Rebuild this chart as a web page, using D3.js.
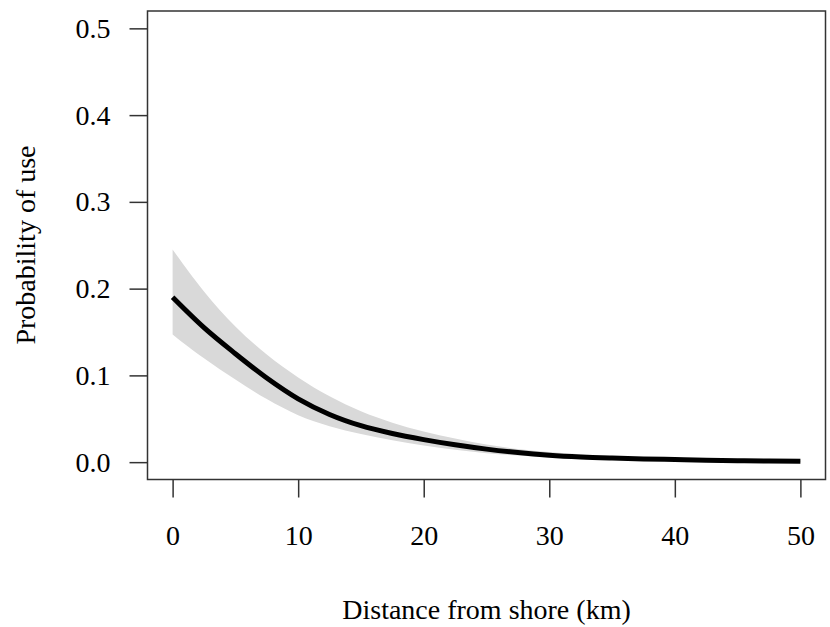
<!DOCTYPE html>
<html><head><meta charset="utf-8">
<script src="https://cdn.jsdelivr.net/npm/d3@7"></script>
<style>body{margin:0;background:#fff}svg{display:block}text{font-family:"Liberation Serif","Times New Roman",serif;fill:#000}</style>
</head><body><svg id="c" width="830" height="627"></svg>
<script>
const distance = [0, 2.5, 5, 7.5, 10, 12.5, 15, 17.5, 20, 22.5, 25, 27.5, 30, 32.5, 35, 37.5, 40, 42.5, 45, 47.5, 50];
const fitValues = [0.19, 0.155, 0.125, 0.097, 0.073, 0.055, 0.042, 0.033, 0.026, 0.020, 0.015, 0.011, 0.008, 0.006, 0.0047, 0.0037, 0.003, 0.0023, 0.0017, 0.0012, 0.001];
const upperValues = [0.245, 0.195, 0.155, 0.123, 0.097, 0.075, 0.058, 0.045, 0.035, 0.027, 0.020, 0.015, 0.0115, 0.009, 0.007, 0.0055, 0.0045, 0.0035, 0.0028, 0.0022, 0.0018];
const lowerValues = [0.147, 0.119, 0.095, 0.072, 0.053, 0.041, 0.032, 0.025, 0.019, 0.014, 0.010, 0.0075, 0.0052, 0.0038, 0.0026, 0.0018, 0.0012, 0.0008, 0.0005, 0.0003, 0.0002];
const xTicks = [0, 10, 20, 30, 40, 50];
const yTicks = [0.0, 0.1, 0.2, 0.3, 0.4, 0.5];
const xTitle = "Distance from shore (km)";
const yTitle = "Probability of use";

const svg = d3.select("#c");
const L = 147.5, R = 825.5, T = 11, B = 479.5;
const x = d3.scaleLinear().domain([-2, 52]).range([L, R]);
const y = d3.scaleLinear().domain([-0.02, 0.52]).range([B, T]);

const rows = distance.map((d, i) => ({d, f: fitValues[i], u: upperValues[i], l: lowerValues[i]}));

svg.append("path").datum(rows)
  .attr("fill", "#d9d9d9")
  .attr("d", d3.area().x(r => x(r.d)).y0(r => y(r.l)).y1(r => y(r.u)).curve(d3.curveBasis));

svg.append("path").datum(rows)
  .attr("fill", "none").attr("stroke", "#000").attr("stroke-width", 5)
  .attr("d", d3.line().x(r => x(r.d)).y(r => y(r.f)).curve(d3.curveMonotoneX));

svg.append("rect").attr("x", L).attr("y", T).attr("width", R - L).attr("height", B - T)
  .attr("fill", "none").attr("stroke", "#333").attr("stroke-width", 1.5);

const fs = 28;
const xa = svg.append("g").attr("transform", `translate(0,${B})`)
  .call(d3.axisBottom(x).tickValues(xTicks).tickFormat(d3.format("d")).tickSize(18).tickPadding(28));
xa.select(".domain").remove();
xa.selectAll("line").attr("stroke", "#333").attr("stroke-width", 1.5);
xa.selectAll("text").style("font-size", fs + "px").style("font-family", "Liberation Serif");

const ya = svg.append("g").attr("transform", `translate(${L},0)`)
  .call(d3.axisLeft(y).tickValues(yTicks).tickFormat(d3.format(".1f")).tickSize(18).tickPadding(19));
ya.select(".domain").remove();
ya.selectAll("line").attr("stroke", "#333").attr("stroke-width", 1.5);
ya.selectAll("text").style("font-size", fs + "px").style("font-family", "Liberation Serif");

svg.append("text").attr("x", (L + R) / 2).attr("y", 619).attr("text-anchor", "middle")
  .style("font-size", fs + "px").text(xTitle);
svg.append("text").attr("transform", "translate(35,245) rotate(-90)").attr("text-anchor", "middle")
  .style("font-size", fs + "px").text(yTitle);
</script></body></html>
